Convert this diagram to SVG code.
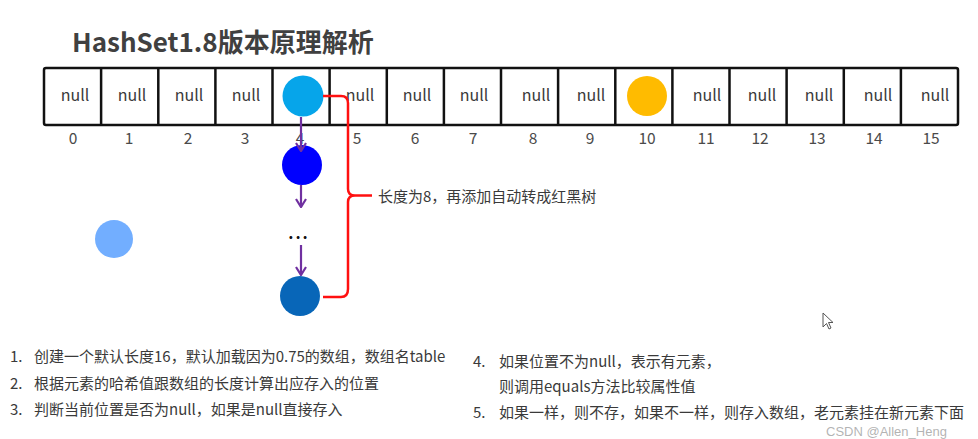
<svg xmlns="http://www.w3.org/2000/svg" width="978" height="439" viewBox="0 0 978 439">
<defs>
<style>
.t{font-family:"Noto Sans CJK SC","Noto Sans",sans-serif;fill:#3a3a3a}
.null{font-size:16px;text-anchor:middle}
.idx{font-size:15.5px;text-anchor:middle;fill:#4a4a4a}
.cell{fill:#fff;stroke:#111;stroke-width:2.5}
.arrow{stroke:#7030A0;stroke-width:2.2;fill:none;marker-end:url(#chev)}
.body{font-size:15px}
</style>
<marker id="chev" markerUnits="userSpaceOnUse" viewBox="0 0 10 12" refX="9" refY="6" markerWidth="10" markerHeight="12" orient="auto">
<path d="M1,1 L9,6 L1,11" fill="none" stroke="#7030A0" stroke-width="2.2"/>
</marker>
</defs>
<rect width="978" height="439" fill="#fff"/>
<text class="t" x="72" y="52" font-size="26" font-weight="bold" style="fill:#404040">HashSet1.8版本原理解析</text>

<g id="array">
<rect class="cell" x="44" y="68" width="914" height="57" rx="2"/>
<path d="M101.1,68V125M158.3,68V125M215.4,68V125M272.5,68V125M329.6,68V125M386.8,68V125M443.9,68V125M501,68V125M558.1,68V125M615.3,68V125M672.4,68V125M729.5,68V125M786.6,68V125M843.8,68V125M900.9,68V125" stroke="#111" stroke-width="2.5" fill="none"/>
<g class="t null">
<text x="75" y="101">null</text>
<text x="132" y="101">null</text>
<text x="189" y="101">null</text>
<text x="246" y="101">null</text>
<text x="360" y="101">null</text>
<text x="417" y="101">null</text>
<text x="474" y="101">null</text>
<text x="536" y="101">null</text>
<text x="591" y="101">null</text>
<text x="707" y="101">null</text>
<text x="762" y="101">null</text>
<text x="819" y="101">null</text>
<text x="878" y="101">null</text>
<text x="935" y="101">null</text>
</g>
<g class="t idx">
<text x="73" y="144">0</text>
<text x="129" y="144">1</text>
<text x="188" y="144">2</text>
<text x="245" y="144">3</text>
<text x="300" y="144">4</text>
<text x="357" y="144">5</text>
<text x="415" y="144">6</text>
<text x="473" y="144">7</text>
<text x="533" y="144">8</text>
<text x="590" y="144">9</text>
<text x="647" y="144">10</text>
<text x="706" y="144">11</text>
<text x="760" y="144">12</text>
<text x="817" y="144">13</text>
<text x="874" y="144">14</text>
<text x="931" y="144">15</text>
</g>
</g>

<g id="node-head"><circle cx="303" cy="96" r="20.5" fill="#06A5EA"/></g>
<g id="node-orange"><circle cx="647" cy="96" r="20" fill="#FFBB00"/></g>
<g id="node-blue"><circle cx="302" cy="165" r="20" fill="#0000FF"/></g>
<g id="node-dots"><text class="t" x="299" y="239" font-size="16" font-weight="bold" letter-spacing="2" text-anchor="middle" style="fill:#111">...</text></g>
<g id="node-tail"><circle cx="300" cy="296" r="20" fill="#0866B8"/></g>
<g id="node-new"><circle cx="114" cy="239" r="19" fill="#72AEFF"/></g>

<g id="connectors">
<line class="arrow" x1="301" y1="117" x2="301" y2="151"/>
<line class="arrow" x1="301" y1="185" x2="301" y2="207"/>
<line class="arrow" x1="301" y1="245" x2="301" y2="275"/>
<path d="M323,96 H341 Q348,96 348,103 V189 Q348,195.5 355,195.5 H372 M355,195.5 Q348,195.5 348,202 V289 Q348,297 341,297 H323" fill="none" stroke="#FF1010" stroke-width="2.5"/>
</g>

<g id="label-tree"><text class="t" x="378" y="202" font-size="15">长度为8，再添加自动转成红黑树</text></g>

<g id="steps" class="t body">
<text x="10" y="362">1.</text><text x="34" y="362">创建一个默认长度16，默认加载因为0.75的数组，数组名table</text>
<text x="10" y="389">2.</text><text x="34" y="389">根据元素的哈希值跟数组的长度计算出应存入的位置</text>
<text x="10" y="415">3.</text><text x="34" y="415">判断当前位置是否为null，如果是null直接存入</text>
<text x="473" y="367">4.</text><text x="499" y="367">如果位置不为null，表示有元素，</text>
<text x="499" y="392">则调用equals方法比较属性值</text>
<text x="473" y="418">5.</text><text x="499" y="418">如果一样，则不存，如果不一样，则存入数组，老元素挂在新元素下面</text>
</g>

<text x="826" y="436" font-family="Liberation Sans, sans-serif" font-size="13" fill="#9a9a9a" fill-opacity="0.75">CSDN @Allen_Heng</text>
<path d="M823,313 L823,327 L826.5,323.5 L829,329 L831,328 L828.5,322.5 L833,322.5 Z" fill="#fff" stroke="#555" stroke-width="1"/>
</svg>
